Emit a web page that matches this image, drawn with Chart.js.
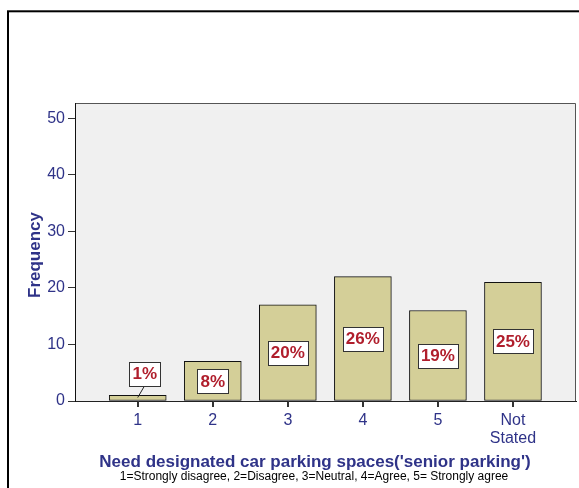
<!DOCTYPE html>
<html>
<head>
<meta charset="utf-8">
<script src="https://cdn.jsdelivr.net/npm/chart.js@4/dist/chart.umd.min.js"></script>
<style>
  body { margin: 0; background: #fff; }
  #wrap { width: 579px; height: 488px; }
</style>
</head>
<body>
<div id="wrap"><canvas id="parkingChart" width="579" height="488"></canvas></div>
<script>
const categories = ["1", "2", "3", "4", "5", ["Not", "Stated"]];
const categoryPos = [1, 2, 3, 4, 5, 6];
const frequency = [1, 7, 17, 22, 16, 21];
const percentLabels = ["1%", "8%", "20%", "26%", "19%", "25%"];
const yTicks = [0, 10, 20, 30, 40, 50];

const navy = "#2f3388";
const fontFamily = 'Arial, "Liberation Sans", sans-serif';

const spssLook = {
  id: "spssLook",
  beforeDraw: function (chart) {
    const ctx = chart.ctx;
    const area = chart.chartArea;
    ctx.save();
    // outer frame
    ctx.strokeStyle = "#000";
    ctx.lineWidth = 2;
    ctx.strokeRect(8, 11.3, 620, 620);
    // plot background
    ctx.fillStyle = "#f0f0f0";
    ctx.fillRect(area.left, area.top, area.right - area.left, area.bottom - area.top);
    ctx.strokeStyle = "#555";
    ctx.lineWidth = 1;
    ctx.beginPath();
    ctx.moveTo(area.left, area.top + 0.5);
    ctx.lineTo(area.right - 0.5, area.top + 0.5);
    ctx.lineTo(area.right - 0.5, area.bottom);
    ctx.stroke();
    ctx.restore();
  },
  afterDatasetsDraw: function (chart) {
    const ctx = chart.ctx;
    const bars = chart.getDatasetMeta(0).data;
    const xScale = chart.scales.x;
    ctx.save();
    // x tick marks under the axis line
    ctx.strokeStyle = "#333";
    ctx.lineWidth = 1;
    ctx.beginPath();
    for (let i = 0; i < categoryPos.length; i++) {
      const px = Math.round(xScale.getPixelForValue(categoryPos[i])) + 0.5;
      ctx.moveTo(px, xScale.top);
      ctx.lineTo(px, xScale.top + 6);
    }
    ctx.stroke();

    ctx.font = "bold 17px " + fontFamily;
    ctx.textAlign = "center";
    ctx.textBaseline = "middle";
    for (let i = 0; i < bars.length; i++) {
      const bar = bars[i];
      const text = percentLabels[i];
      const w = ctx.measureText(text).width + 6;
      const h = 24;
      let cx = bar.x;
      let cy = (bar.y + bar.base) / 2;
      if (bar.base - bar.y < h + 4) {
        // small bar: box sits above with a leader line
        cx = bar.x + 7;
        cy = bar.base - 27;
        ctx.strokeStyle = "#222";
        ctx.lineWidth = 1;
        ctx.beginPath();
        ctx.moveTo(cx, cy + h / 2);
        ctx.lineTo(bar.x, bar.base - 3);
        ctx.stroke();
      }
      const left = Math.round(cx - w / 2) + 0.5;
      const top = Math.round(cy - h / 2) + 0.5;
      ctx.fillStyle = "#fff";
      ctx.fillRect(left, top, Math.round(w), h);
      ctx.strokeStyle = "#333";
      ctx.lineWidth = 1;
      ctx.strokeRect(left, top, Math.round(w), h);
      ctx.fillStyle = "#b01e2c";
      ctx.fillText(text, cx, cy + 1);
    }
    ctx.restore();
  },
  afterDraw: function (chart) {
    const ctx = chart.ctx;
    ctx.save();
    ctx.fillStyle = navy;
    ctx.textAlign = "center";
    ctx.textBaseline = "middle";
    ctx.font = "bold 17px " + fontFamily;
    ctx.fillText("Need designated car parking spaces('senior parking')", 315, 462);
    ctx.translate(35, 255);
    ctx.rotate(-Math.PI / 2);
    ctx.fillText("Frequency", 0, 0);
    ctx.restore();
    ctx.save();
    ctx.fillStyle = "#000";
    ctx.textAlign = "center";
    ctx.textBaseline = "middle";
    ctx.font = "12px " + fontFamily;
    ctx.fillText("1=Strongly disagree, 2=Disagree, 3=Neutral, 4=Agree, 5= Strongly agree", 314, 477);
    ctx.restore();
  },
};

const ctx = document.getElementById("parkingChart").getContext("2d");

new Chart(ctx, {
  type: "bar",
  data: {
    datasets: [
      {
        label: "Frequency",
        data: frequency.map(function (f, i) {
          return { x: categoryPos[i], y: f };
        }),
        backgroundColor: "#d4cf98",
        borderColor: "#111",
        borderWidth: 1,
        borderSkipped: false,
        barThickness: 57,
      },
    ],
  },
  options: {
    responsive: false,
    animation: false,
    devicePixelRatio: 1,
    layout: {
      padding: { top: 103, right: 3, bottom: 0, left: 0 },
    },
    plugins: {
      legend: { display: false },
      tooltip: { enabled: false },
    },
    scales: {
      x: {
        type: "linear",
        offset: false,
        min: 0.164,
        max: 6.84,
        afterFit: function (scale) {
          scale.height = 87;
        },
        afterBuildTicks: function (scale) {
          scale.ticks = categoryPos.map(function (v) {
            return { value: v };
          });
        },
        ticks: {
          color: navy,
          font: { family: fontFamily, size: 16, lineHeight: 1.1 },
          padding: 5,
          maxRotation: 0,
          autoSkip: false,
          callback: function (value) {
            return categories[value - 1];
          },
        },
        grid: {
          offset: false,
          drawOnChartArea: false,
          drawTicks: true,
          tickLength: 6,
          color: "#333",
        },
        border: { display: true, color: "#222", width: 1 },
      },
      y: {
        min: 0,
        max: 52.7,
        afterFit: function (scale) {
          scale.width = 75;
        },
        afterBuildTicks: function (scale) {
          scale.ticks = yTicks.map(function (v) {
            return { value: v };
          });
        },
        ticks: {
          color: navy,
          font: { family: fontFamily, size: 16 },
          padding: 3,
        },
        grid: {
          drawOnChartArea: false,
          drawTicks: true,
          tickLength: 7,
          color: "#333",
        },
        border: { display: true, color: "#111", width: 1 },
      },
    },
  },
  plugins: [spssLook],
});
</script>
</body>
</html>
